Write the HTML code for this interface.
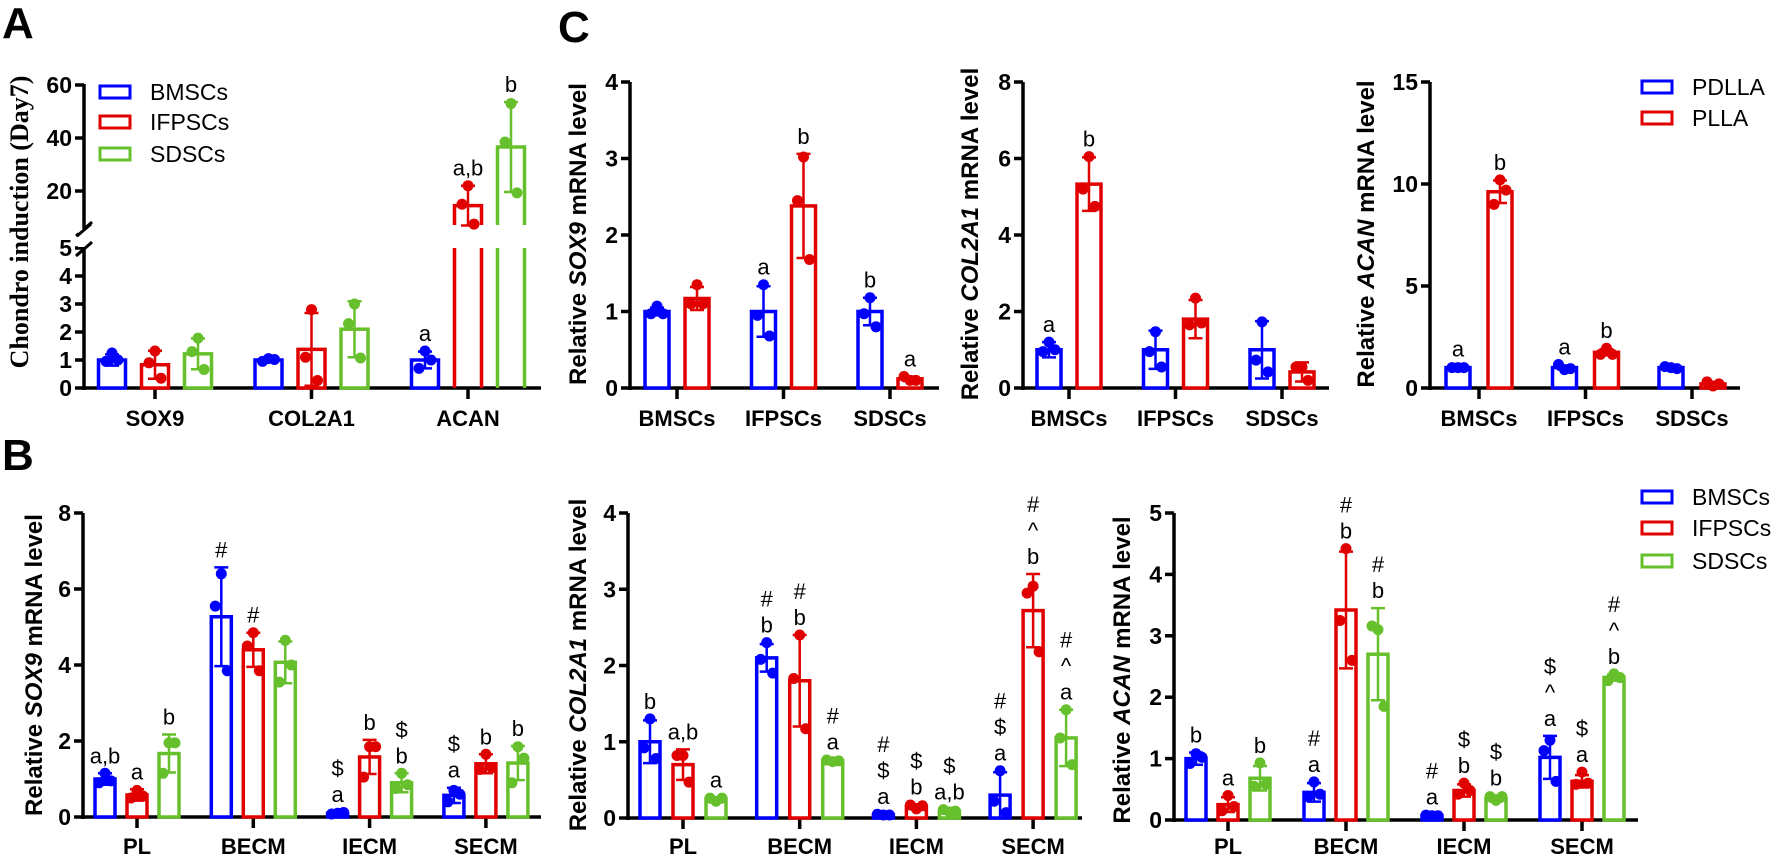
<!DOCTYPE html>
<html><head><meta charset="utf-8"><style>
html,body{margin:0;padding:0;background:#fff;}
svg{display:block;font-family:"Liberation Sans",Arial,sans-serif;}
</style></head><body>
<svg id="fig" width="1772" height="861" viewBox="0 0 1772 861" xmlns="http://www.w3.org/2000/svg"></svg>
<script>
// ---------- Panel A data ----------
const aCats = ["SOX9","COL2A1","ACAN"];
const aBM = [1.0, 1.0, 1.0];
const aIF = [0.83, 1.38, 14.5];
const aSD = [1.22, 2.1, 36.6];
const aBMsd = [0.2, 0.08, 0.3];
const aIFsd = [0.5, 1.3, 7.5];
const aSDsd = [0.55, 1.0, 17];
const aBMpts = [[1.25,0.95,1.0],[1.05,0.95,1.02],[1.32,0.7,1.0]];
const aIFpts = [[1.32,0.9,0.35],[2.8,1.1,0.27],[22,15,7.5]];
const aSDpts = [[1.78,1.3,0.66],[3.0,2.3,1.07],[53,38.5,19.3]];
const aBMann = [[],[],["a"]];
const aIFann = [[],[],["a,b"]];
const aSDann = [[],[],["b"]];
const aTicksLow = [0,1,2,3,4,5];
const aTicksHigh = [20,40,60];

// ---------- Panel B data ----------
const bCats = ["PL","BECM","IECM","SECM"];
const b1Ticks = [0,2,4,6,8];
const b1BM = [1.0, 5.27, 0.1, 0.57];
const b1IF = [0.58, 4.4, 1.58, 1.4];
const b1SD = [1.67, 4.07, 0.9, 1.42];
const b1BMsd = [0.15, 1.3, 0.03, 0.2];
const b1IFsd = [0.15, 0.45, 0.45, 0.25];
const b1SDsd = [0.5, 0.55, 0.25, 0.45];
const b1BMpts = [[1.15,0.9,0.95],[6.4,5.55,3.85],[0.1,0.08,0.12],[0.7,0.4,0.6]];
const b1IFpts = [[0.7,0.5,0.55],[4.85,4.5,3.85],[1.85,1.05,1.85],[1.65,1.25,1.3]];
const b1SDpts = [[1.95,1.15,1.95],[4.65,3.55,4.0],[1.15,0.75,0.85],[1.85,0.9,1.55]];
const b1BMann = [["a,b"],["#"],["$","a"],["$","a"]];
const b1IFann = [["a"],["#"],["b"],["b"]];
const b1SDann = [["b"],[],["$","b"],["b"]];

const b2Ticks = [0,1,2,3,4];
const b2BM = [1.0, 2.1, 0.04, 0.3];
const b2IF = [0.7, 1.8, 0.15, 2.72];
const b2SD = [0.25, 0.75, 0.09, 1.05];
const b2BMsd = [0.28, 0.18, 0.01, 0.3];
const b2IFsd = [0.2, 0.6, 0.03, 0.48];
const b2SDsd = [0.02, 0.02, 0.02, 0.37];
const b2BMpts = [[1.3,0.92,0.78],[2.3,2.08,1.9],[0.04,0.05,0.04],[0.62,0.22,0.07]];
const b2IFpts = [[0.82,0.82,0.47],[2.4,1.83,1.17],[0.12,0.17,0.16],[3.04,2.95,2.18]];
const b2SDpts = [[0.22,0.26,0.26],[0.74,0.76,0.75],[0.08,0.11,0.09],[1.42,1.05,0.7]];
const b2BMann = [["b"],["#","b"],["#","$","a"],["#","$","a"]];
const b2IFann = [["a,b"],["#","b"],["$","b"],["#","^","b"]];
const b2SDann = [["a"],["#","a"],["$","a,b"],["#","^","a"]];

const b3Ticks = [0,1,2,3,4,5];
const b3BM = [1.0, 0.45, 0.07, 1.02];
const b3IF = [0.25, 3.42, 0.48, 0.63];
const b3SD = [0.68, 2.7, 0.35, 2.32];
const b3BMsd = [0.1, 0.15, 0.02, 0.35];
const b3IFsd = [0.12, 0.95, 0.1, 0.1];
const b3SDsd = [0.2, 0.75, 0.05, 0.05];
const b3BMpts = [[1.08,0.92,1.02],[0.62,0.38,0.42],[0.07,0.08,0.07],[1.3,1.13,0.63]];
const b3IFpts = [[0.4,0.15,0.22],[4.42,3.25,2.6],[0.6,0.42,0.48],[0.78,0.58,0.6]];
const b3SDpts = [[0.93,0.55,0.58],[3.1,3.16,1.85],[0.32,0.38,0.38],[2.38,2.27,2.32]];
const b3BMann = [["b"],["#","a"],["#","a"],["$","^","a"]];
const b3IFann = [["a"],["#","b"],["$","b"],["$","a"]];
const b3SDann = [["b"],["#","b"],["$","b"],["#","^","b"]];

// ---------- Panel C data ----------
const cCats = ["BMSCs","IFPSCs","SDSCs"];
const c1Ticks = [0,1,2,3,4];
const c1PD = [1.0, 1.0, 1.0];
const c1PL = [1.17, 2.38, 0.12];
const c1PDsd = [0.05, 0.33, 0.18];
const c1PLsd = [0.15, 0.68, 0.03];
const c1PDpts = [[1.07,0.97,0.97],[1.35,0.95,0.68],[1.18,0.97,0.8]];
const c1PLpts = [[1.35,1.1,1.1],[3.02,2.45,1.68],[0.1,0.15,0.1]];
const c1PDann = [[],["a"],["b"]];
const c1PLann = [[],["b"],["a"]];

const c2Ticks = [0,2,4,6,8];
const c2PD = [1.0, 1.0, 1.0];
const c2PL = [5.33, 1.8, 0.42];
const c2PDsd = [0.2, 0.5, 0.75];
const c2PLsd = [0.7, 0.5, 0.25];
const c2PDpts = [[1.2,0.95,1.0],[1.47,0.95,0.55],[1.73,0.73,0.42]];
const c2PLpts = [[6.05,5.2,4.75],[2.35,1.65,1.7],[0.55,0.55,0.2]];
const c2PDann = [["a"],[],[]];
const c2PLann = [["b"],[],[]];

const c3Ticks = [0,5,10,15];
const c3PD = [1.0, 1.0, 1.0];
const c3PL = [9.62, 1.75, 0.2];
const c3PDsd = [0.05, 0.1, 0.05];
const c3PLsd = [0.55, 0.15, 0.1];
const c3PDpts = [[1.0,1.0,1.0],[0.9,1.15,0.95],[1.0,1.05,0.95]];
const c3PLpts = [[10.2,9.0,9.7],[1.95,1.65,1.65],[0.1,0.3,0.2]];
const c3PDann = [["a"],["a"],[]];
const c3PLann = [["b"],["b"],[]];

// ---------- rendering ----------
const NS = "http://www.w3.org/2000/svg";
const svg = document.getElementById("fig");
const BLUE="#0000ff", RED="#e00000", GREEN="#66c02c";
function mk(tag, attrs, parent, txt){
  const e = document.createElementNS(NS, tag);
  for (const k in attrs) e.setAttribute(k, attrs[k]);
  if (txt !== undefined) e.textContent = txt;
  (parent||svg).appendChild(e);
  return e;
}

function drawPanel(p){
  const g = mk("g", {});
  
  
  const y = p.yScale;
  // y axis
  p.axisSegments.forEach(s=>{
    const l = mk("line",{x1:p.ax,x2:p.ax,y1:s[0],y2:s[1],stroke:"#000","stroke-width":3.5},g);
    
    
  });
  p.ticks.forEach(t=>{
    const ty = y(t);
    const tl = mk("line",{x1:p.ax-9,x2:p.ax,y1:ty,y2:ty,stroke:"#000","stroke-width":3.5},g);
    
    
    const tx = mk("text",{x:p.ax-12,y:ty+8,"text-anchor":"end","font-size":23,"font-weight":"bold"},g,String(t));
    
    
  });
  // x axis
  const xl = mk("line",{x1:p.ax-1.5,x2:p.xEnd,y1:p.yBot,y2:p.yBot,stroke:"#000","stroke-width":3.5},g);
  
  
  p.cats.forEach((c,i)=>{
    const cx = p.cx0 + i*p.cdx;
    const t = mk("line",{x1:cx,x2:cx,y1:p.yBot,y2:p.yBot+11,stroke:"#000","stroke-width":3.5},g);
    
    
    const lb = mk("text",{x:cx,y:p.catY,"text-anchor":"middle","font-size":p.catFs||22,"font-weight":"bold"},g,c);
    
    
  });
  // series
  p.series.forEach((s,si)=>{
    const off = p.offsets[si];
    p.cats.forEach((c,i)=>{
      const cx = p.cx0 + i*p.cdx + off;
      const xL = cx - p.bw/2, xR = cx + p.bw/2;
      const m = s.means[i], sd = s.sds[i];
      let bar;
      if (p.breakAt && m > p.breakAt){
        const d = `M${xL},${p.yBot} V${y(p.breakAt)} M${xR},${p.yBot} V${y(p.breakAt)} M${xL},${p.breakTop} V${y(m)} H${xR} V${p.breakTop}`;
        bar = mk("path",{d:d,fill:"none",stroke:s.color,"stroke-width":3.5},g);
      } else {
        bar = mk("rect",{x:xL,y:y(m),width:p.bw,height:p.yBot-y(m),fill:"#fff",stroke:s.color,"stroke-width":3.5},g);
      }
      
      
      const lo = Math.max(0, m-sd), hi = m+sd;
      const eb = mk("path",{d:`M${cx},${y(lo)} V${y(hi)} M${cx-7},${y(hi)} H${cx+7} M${cx-7},${y(lo)} H${cx+7}`,stroke:s.color,"stroke-width":2.5,fill:"none"},g);
      
      
      let top = hi;
      const jit = [0,-6,6];
      s.pts[i].forEach((v,k)=>{
        if (v>top) top=v;
        const pt = mk("circle",{cx:cx+jit[k],cy:y(v),r:p.pr||5.5,fill:s.color},g);
        
        
      });
      const ann = s.ann[i];
      let by = y(top) - 10;
      for (let k=ann.length-1;k>=0;k--){
        const at = mk("text",{x:cx,y:by,"text-anchor":"middle","font-size":22},g,ann[k]);
        
        
        by -= 26;
      }
    });
  });
  // y title
  const yt = mk("text",{transform:`translate(${p.ytX},${p.ytY}) rotate(-90)`,"text-anchor":"middle","font-size":p.ytFs||24,"font-weight":"bold","font-family":p.ytFont||null},g);
  
  
  p.ytParts.forEach(pt=>{
    const ts = mk("tspan",pt[1]?{"font-style":"italic"}:{},yt,pt[0]);
  });
  if(!p.ytFont) yt.removeAttribute("font-family");
  return g;
}

function lin(yBot,yTop,ymax){ return v => yBot - v/ymax*(yBot-yTop); }

// Panel A
const aY = v => v<=5 ? 388 - v*28 : 191 - (v-20)*2.65;
drawPanel({name:"panel-a-chart",yScale:aY,ax:84,axisSegments:[[390,248],[228,84]],ticks:aTicksLow.concat(aTicksHigh),
  xEnd:541,yBot:388,cats:aCats,cx0:155,cdx:156.5,catY:426,offsets:[-43,0,43],bw:27,breakAt:5,breakTop:225,
  series:[{key:"bmscs",color:BLUE,means:aBM,sds:aBMsd,pts:aBMpts,ann:aBMann},
          {key:"ifpscs",color:RED,means:aIF,sds:aIFsd,pts:aIFpts,ann:aIFann},
          {key:"sdscs",color:GREEN,means:aSD,sds:aSDsd,pts:aSDpts,ann:aSDann}],
  ytX:28,ytY:222,ytFs:26,ytFont:"Liberation Serif",ytParts:[["Chondro induction (Day7)",false]]});
// break marks
mk("path",{d:"M76,236 L92,222 M76,256 L92,242",stroke:"#000","stroke-width":3,fill:"none"});
// hide axis part between
mk("rect",{x:78,y:229,width:12,height:18,fill:"#fff"});
mk("path",{d:"M77,236 L91,224 M77,255 L91,243",stroke:"#000","stroke-width":3,fill:"none"});

// Panel B
drawPanel({name:"panel-b-sox9-chart",yScale:lin(817,513,8),ax:83,axisSegments:[[819,513]],ticks:b1Ticks,
  xEnd:541,yBot:817,cats:bCats,cx0:137,cdx:116.3,catY:854,offsets:[-32,0,32],bw:20,
  series:[{key:"bmscs",color:BLUE,means:b1BM,sds:b1BMsd,pts:b1BMpts,ann:b1BMann},
          {key:"ifpscs",color:RED,means:b1IF,sds:b1IFsd,pts:b1IFpts,ann:b1IFann},
          {key:"sdscs",color:GREEN,means:b1SD,sds:b1SDsd,pts:b1SDpts,ann:b1SDann}],
  ytX:42,ytY:665,ytParts:[["Relative ",false],["SOX9",true],[" mRNA level",false]]});
drawPanel({name:"panel-b-col2a1-chart",yScale:lin(818,513,4),ax:628,axisSegments:[[820,513]],ticks:b2Ticks,
  xEnd:1082,yBot:818,cats:bCats,cx0:683,cdx:116.7,catY:854,offsets:[-33,0,33],bw:20,
  series:[{key:"bmscs",color:BLUE,means:b2BM,sds:b2BMsd,pts:b2BMpts,ann:b2BMann},
          {key:"ifpscs",color:RED,means:b2IF,sds:b2IFsd,pts:b2IFpts,ann:b2IFann},
          {key:"sdscs",color:GREEN,means:b2SD,sds:b2SDsd,pts:b2SDpts,ann:b2SDann}],
  ytX:586,ytY:665,ytParts:[["Relative ",false],["COL2A1",true],[" mRNA level",false]]});
drawPanel({name:"panel-b-acan-chart",yScale:lin(820,513,5),ax:1174,axisSegments:[[822,513]],ticks:b3Ticks,
  xEnd:1638,yBot:820,cats:bCats,cx0:1228,cdx:118,catY:854,offsets:[-32,0,32],bw:20,
  series:[{key:"bmscs",color:BLUE,means:b3BM,sds:b3BMsd,pts:b3BMpts,ann:b3BMann},
          {key:"ifpscs",color:RED,means:b3IF,sds:b3IFsd,pts:b3IFpts,ann:b3IFann},
          {key:"sdscs",color:GREEN,means:b3SD,sds:b3SDsd,pts:b3SDpts,ann:b3SDann}],
  ytX:1130,ytY:670,ytParts:[["Relative ",false],["ACAN",true],[" mRNA level",false]]});

// Panel C
drawPanel({name:"panel-c-sox9-chart",yScale:lin(388,82,4),ax:630,axisSegments:[[390,82]],ticks:c1Ticks,
  xEnd:939,yBot:388,cats:cCats,cx0:677,cdx:106.5,catY:426,offsets:[-20,20],bw:24,
  series:[{key:"pdlla",color:BLUE,means:c1PD,sds:c1PDsd,pts:c1PDpts,ann:c1PDann},
          {key:"plla",color:RED,means:c1PL,sds:c1PLsd,pts:c1PLpts,ann:c1PLann}],
  ytX:586,ytY:234,ytParts:[["Relative ",false],["SOX9",true],[" mRNA level",false]]});
drawPanel({name:"panel-c-col2a1-chart",yScale:lin(388,82,8),ax:1023,axisSegments:[[390,82]],ticks:c2Ticks,
  xEnd:1329,yBot:388,cats:cCats,cx0:1069,cdx:106.5,catY:426,offsets:[-20,20],bw:24,
  series:[{key:"pdlla",color:BLUE,means:c2PD,sds:c2PDsd,pts:c2PDpts,ann:c2PDann},
          {key:"plla",color:RED,means:c2PL,sds:c2PLsd,pts:c2PLpts,ann:c2PLann}],
  ytX:978,ytY:234,ytParts:[["Relative ",false],["COL2A1",true],[" mRNA level",false]]});
drawPanel({name:"panel-c-acan-chart",yScale:lin(388,82,15),ax:1430,axisSegments:[[390,82]],ticks:c3Ticks,
  xEnd:1740,yBot:388,cats:cCats,cx0:1479,cdx:106.5,catY:426,offsets:[-21,21],bw:24,
  series:[{key:"pdlla",color:BLUE,means:c3PD,sds:c3PDsd,pts:c3PDpts,ann:c3PDann},
          {key:"plla",color:RED,means:c3PL,sds:c3PLsd,pts:c3PLpts,ann:c3PLann}],
  ytX:1374,ytY:234,ytParts:[["Relative ",false],["ACAN",true],[" mRNA level",false]]});

// Legends
function legend(name, x, ys, items){
  const g = mk("g",{});
  
  
  items.forEach((it,i)=>{
    const r = mk("rect",{x:x,y:ys[i]-6,width:30,height:12,fill:"#fff",stroke:it[1],"stroke-width":3},g);
    
    
    const t = mk("text",{x:x+50,y:ys[i]+8,"font-size":23},g,it[0]);
    
    
  });
}
legend("legend-panel-a",100,[92,122,154],[["BMSCs",BLUE],["IFPSCs",RED],["SDSCs",GREEN]]);
legend("legend-panel-c",1642,[87,118],[["PDLLA",BLUE],["PLLA",RED]]);
legend("legend-panel-b",1642,[497,528,561],[["BMSCs",BLUE],["IFPSCs",RED],["SDSCs",GREEN]]);

// Panel letters
[["A",2,38],["B",2,470],["C",558,42]].forEach(l=>{
  const t = mk("text",{x:l[1],y:l[2],"font-size":44,"font-weight":"bold"},svg,l[0]);
  
  
});
</script>
</body></html>
